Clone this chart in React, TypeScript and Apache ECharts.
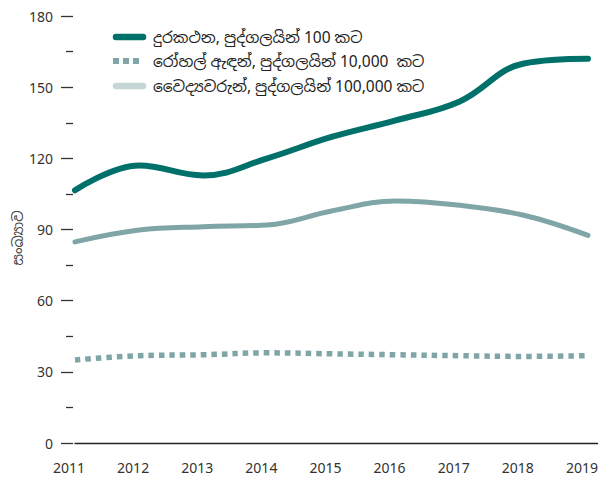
import React, { useEffect, useRef } from "react";
import * as echarts from "echarts";

const years = [2011, 2012, 2013, 2014, 2015, 2016, 2017, 2018, 2019];
const fixedPhones = [106.5, 117, 112.8, 120, 129, 136, 144, 160, 162];
const internetUsers = [35, 36.8, 37.2, 38, 37.6, 37.2, 36.8, 36.5, 36.8];
const doctors = [84.8, 89.8, 91.2, 91.9, 97.8, 102, 100.2, 96, 87.5];

const legendLabels = [
  "දුරකථන, පුද්ගලයින් 100 කට",
  "රෝහල් ඇඳන්, පුද්ගලයින් 10,000  කට",
  "වෛද්‍යවරුන්, පුද්ගලයින් 100,000 කට",
];
const yTitle = "සංඛ්‍යාව";

const DARK = "#00706b";
const MID = "#7fa5a7";
const LIGHT = "#c5d6d6";
const FONT = "'Noto Sans', 'Noto Sans Sinhala', 'Open Sans', sans-serif";

const pairs = (vals: number[]) => years.map((y, i) => [y, vals[i]]);

export default function App() {
  const ref = useRef<HTMLDivElement>(null);
  useEffect(() => {
    if (!ref.current) return;
    const chart = echarts.init(ref.current, undefined, { renderer: "svg" });
    const legendY = [37, 61, 86];
    const legendGraphics: any[] = [];
    legendGraphics.push({
      type: "line",
      shape: { x1: 116, y1: legendY[0], x2: 143, y2: legendY[0] },
      style: { stroke: DARK, lineWidth: 6.5, lineCap: "round" },
    });
    [113, 123, 133].forEach((x) =>
      legendGraphics.push({
        type: "rect",
        shape: { x, y: legendY[1] - 3, width: 6, height: 6 },
        style: { fill: MID },
      })
    );
    legendGraphics.push({
      type: "line",
      shape: { x1: 116, y1: legendY[2], x2: 143, y2: legendY[2] },
      style: { stroke: LIGHT, lineWidth: 6.5, lineCap: "round" },
    });
    legendLabels.forEach((t, i) =>
      legendGraphics.push({
        type: "text",
        x: 153,
        y: legendY[i],
        style: {
          text: t,
          fill: "#222",
          font: `15.5px ${FONT}`,
          textVerticalAlign: "middle",
          verticalAlign: "middle",
        },
      })
    );
    legendGraphics.push({
      type: "text",
      x: 17,
      y: 238,
      rotation: Math.PI / 2,
      style: {
        text: yTitle,
        fill: "#444",
        font: `14px ${FONT}`,
        align: "center",
        textAlign: "center",
        verticalAlign: "middle",
        textVerticalAlign: "middle",
      },
    });

    chart.setOption({
      animation: false,
      backgroundColor: "#fff",
      grid: { left: 75, right: 1, top: 16, bottom: 35, containLabel: false },
      xAxis: {
        type: "value",
        min: 2011,
        max: 2019.15,
        interval: 1,
        axisLine: { show: true, lineStyle: { color: "#222", width: 1.3 } },
        axisTick: { show: false },
        splitLine: { show: false },
        axisLabel: {
          color: "#333",
          fontSize: 14,
          fontFamily: FONT,
          margin: 17,
          padding: [0, 12, 0, 0],
          showMaxLabel: false,
          formatter: (v: number) => (Number.isInteger(v) ? String(v) : ""),
        },
      },
      yAxis: {
        type: "value",
        min: 0,
        max: 180,
        interval: 30,
        offset: 2,
        axisLine: { show: false },
        axisTick: { show: true, length: 12, lineStyle: { color: "#333", width: 1.3 } },
        minorTick: { show: true, splitNumber: 2, length: 7, lineStyle: { color: "#333", width: 1.3 } },
        splitLine: { show: false },
        minorSplitLine: { show: false },
        axisLabel: { color: "#333", fontSize: 14, fontFamily: FONT, margin: 20 },
      },
      series: [
        {
          type: "line",
          data: pairs(doctors),
          smooth: 0.4,
          showSymbol: false,
          lineStyle: { color: MID, width: 5, cap: "round" },
        },
        {
          type: "line",
          data: pairs(internetUsers),
          smooth: 0.4,
          showSymbol: false,
          lineStyle: { color: MID, width: 5.5, type: [5.5, 5], cap: "butt" },
        },
        {
          type: "line",
          data: pairs(fixedPhones),
          smooth: 0.4,
          showSymbol: false,
          lineStyle: { color: DARK, width: 6, cap: "round" },
        },
      ],
      graphic: legendGraphics,
    });
    return () => chart.dispose();
  }, []);
  return (
    <div
      ref={ref}
      style={{ position: "absolute", left: 0, top: 0, width: 601, height: 478 }}
    />
  );
}
